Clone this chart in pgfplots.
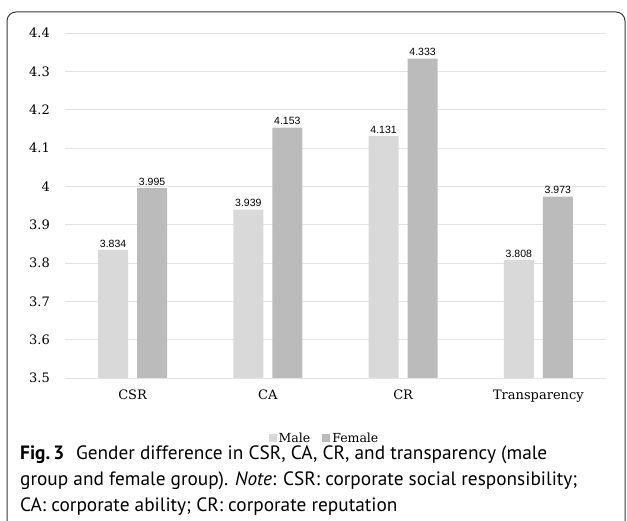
\documentclass[border=0pt]{standalone}
\usepackage{fontspec}
\setmainfont{DejaVu Serif}
\newfontfamily\labfont{Liberation Sans}
\newfontfamily\capfont{PT Sans}
\usepackage{pgfplots}
\pgfplotsset{compat=1.18}
\definecolor{malegray}{HTML}{D9D9D9}
\definecolor{femgray}{HTML}{BBBBBB}
\definecolor{gridgray}{HTML}{E2E2E2}
\definecolor{framegray}{HTML}{3A3A3A}

\pgfplotstableread{
x male female
0 3.834 3.995
1 3.939 4.153
2 4.131 4.333
3 3.808 3.973
}\gendertable

\begin{document}
\begin{tikzpicture}[x=1pt,y=1pt]
  \path[use as bounding box] (0,0) rectangle (627,521);
  % frame of the figure box
  \draw[framegray, line width=1pt, rounded corners=9pt] (7,-20) rectangle (625,509);
  \begin{axis}[
      at={(65pt,143pt)}, anchor=south west,
      scale only axis,
      width=541pt, height=345pt,
      ybar, bar width=30pt,
      xmin=-0.5, xmax=3.5,
      ymin=3.5, ymax=4.4,
      ytick={3.5,3.6,...,4.4},
      xtick={0,1,2,3},
      xticklabels={CSR, CA, CR, Transparency},
      /pgf/number format/assume math mode=true,
      yticklabel={\pgfmathprintnumber[fixed,precision=1]{\tick}},
      axis line style={draw=none},
      major tick length=0pt,
      ymajorgrids, grid style={gridgray, line width=0.8pt},
      tick label style={font=\fontsize{13}{15}\selectfont},
      yticklabel style={anchor=east, inner sep=0pt, xshift=-15pt},
      xticklabel style={anchor=north, inner sep=0pt, yshift=-12pt},
      nodes near coords,
      every node near coord/.append style={font=\labfont\fontsize{10.5}{12}\selectfont, inner sep=1.5pt, yshift=1pt,
        /pgf/number format/.cd, fixed, precision=3, fixed zerofill},
      legend style={at={(0.5,-0.175)}, anchor=center, xshift=-11pt, draw=none, fill=none,
        legend columns=2, font=\fontsize{12.5}{14}\selectfont,
        /tikz/every even column/.append style={column sep=10pt},
        inner sep=0pt},
      legend image code/.code={\fill[#1] (0pt,-4pt) rectangle (8pt,4pt);},
    ]
    \addplot[draw=none, fill=malegray, bar shift=-19.5pt] table[x=x, y=male] {\gendertable};
    \addplot[draw=none, fill=femgray, bar shift=19.5pt] table[x=x, y=female] {\gendertable};
    \legend{Male, Female}
  \end{axis}
  \begin{scope}[every node/.style={anchor=base west, inner sep=0pt, font=\capfont\fontsize{19.3}{22}\selectfont}]
    \node at (20,61) {\textbf{Fig.\,3}\hspace{0.6em}Gender difference in CSR, CA, CR, and transparency (male};
    \node at (20,35) {group and female group). \textit{Note}: CSR: corporate social responsibility;};
    \node at (20,9) {CA: corporate ability; CR: corporate reputation};
  \end{scope}
\end{tikzpicture}
\end{document}
